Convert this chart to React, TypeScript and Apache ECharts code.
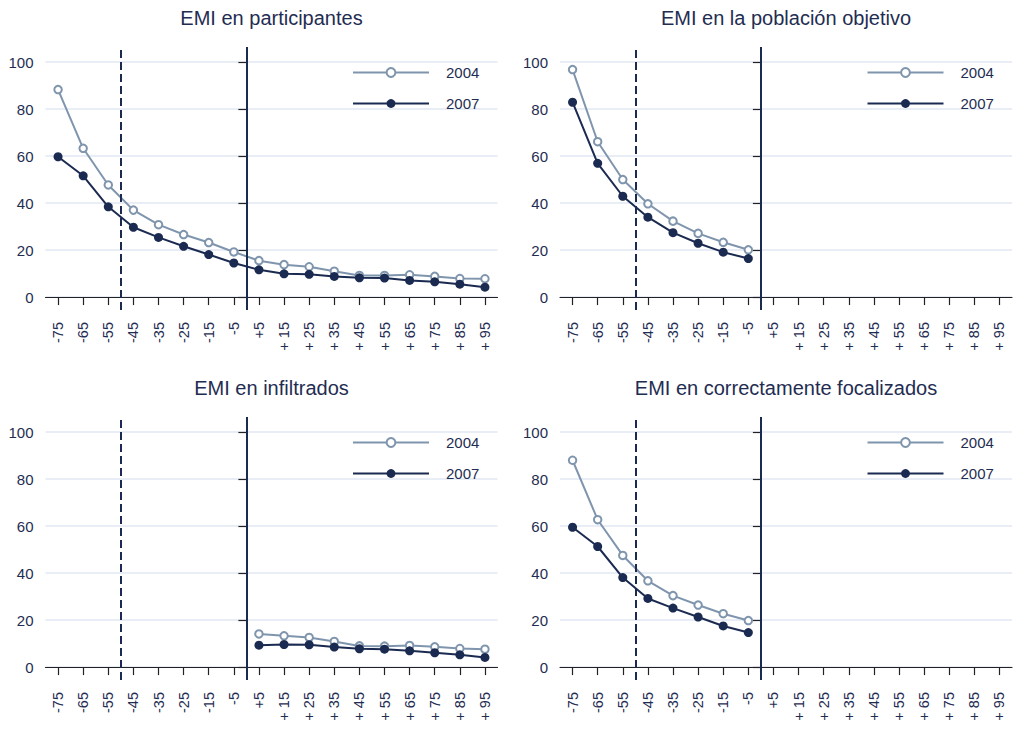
import React, { useEffect, useRef } from "react";
import * as echarts from "echarts";

const categories = ["-75", "-65", "-55", "-45", "-35", "-25", "-15", "-5", "+5", "+ 15", "+ 25", "+ 35", "+ 45", "+ 55", "+ 65", "+ 75", "+ 85", "+ 95"];
const yTicks = [0, 20, 40, 60, 80, 100];
const titles = ["EMI en participantes", "EMI en la población objetivo", "EMI en infiltrados", "EMI en correctamente focalizados"];

const participantes2004 = [88.3, 63.3, 47.7, 37.0, 30.8, 26.6, 23.2, 19.2, 15.5, 13.8, 12.9, 11.0, 9.2, 9.2, 9.5, 8.8, 7.9, 7.8];
const participantes2007 = [59.7, 51.6, 38.4, 29.7, 25.4, 21.6, 18.1, 14.5, 11.6, 9.9, 9.7, 8.8, 8.2, 8.1, 7.1, 6.5, 5.5, 4.2];
const objetivo2004 = [96.8, 66.1, 50.0, 39.7, 32.3, 27.1, 23.3, 20.1, null, null, null, null, null, null, null, null, null, null];
const objetivo2007 = [82.9, 56.9, 42.9, 34.0, 27.4, 22.9, 19.1, 16.4, null, null, null, null, null, null, null, null, null, null];
const infiltrados2004 = [null, null, null, null, null, null, null, null, 14.1, 13.3, 12.6, 10.9, 9.0, 8.9, 9.2, 8.6, 7.9, 7.6];
const infiltrados2007 = [null, null, null, null, null, null, null, null, 9.3, 9.6, 9.5, 8.5, 7.8, 7.6, 6.9, 6.1, 5.2, 4.1];
const focalizados2004 = [88.0, 62.7, 47.5, 36.7, 30.4, 26.4, 22.7, 19.8, null, null, null, null, null, null, null, null, null, null];
const focalizados2007 = [59.5, 51.3, 38.1, 29.2, 25.1, 21.3, 17.5, 14.7, null, null, null, null, null, null, null, null, null, null];

const panelData = [
  [participantes2004, participantes2007],
  [objetivo2004, objetivo2007],
  [infiltrados2004, infiltrados2007],
  [focalizados2004, focalizados2007],
];
const cutoffs = [-50, 0];

const FONT = "'Liberation Sans', Arial, sans-serif";
const C2004 = "#7f95ad";
const C2007 = "#1b2a50";
const TEXT = "#1f2d52";
const GRIDC = "#e2e7f3";

const lefts = [45.5, 560];
const tops = [47, 417];
const GW = 452;
const GH = 263;

export default function App() {
  const ref = useRef<HTMLDivElement>(null);
  useEffect(() => {
    if (!ref.current) return;
    const chart = echarts.init(ref.current, null, { renderer: "svg" });
    const grids: any[] = [];
    const xAxes: any[] = [];
    const yAxes: any[] = [];
    const series: any[] = [];
    const titleArr: any[] = [];
    const legends: any[] = [];
    for (let p = 0; p < 4; p++) {
      const left = lefts[p % 2];
      const top = tops[Math.floor(p / 2)];
      grids.push({ left, top, width: GW, height: GH, containLabel: false });
      titleArr.push({
        text: titles[p],
        left: left + GW / 2,
        top: top - 39,
        textAlign: "center",
        padding: 0,
        textStyle: { fontFamily: FONT, fontSize: 20, fontWeight: "normal", color: TEXT },
      });
      legends.push({
        data: ["2004", "2007"],
        orient: "vertical",
        left: left + 306.5,
        top: top + 18,
        padding: 0,
        itemWidth: 76,
        itemHeight: 11,
        itemGap: 16,
        selectedMode: false,
        textStyle: { fontFamily: FONT, fontSize: 15, color: TEXT, padding: [0, 0, 0, 12] },
      });
      xAxes.push({
        type: "category",
        gridIndex: p,
        data: categories,
        boundaryGap: true,
        axisLine: { show: true, lineStyle: { color: "#222", width: 1.2 } },
        axisTick: { show: true, alignWithLabel: true, length: 8, lineStyle: { color: "#222", width: 1.2 } },
        axisLabel: { interval: 0, rotate: 90, margin: 12, fontFamily: FONT, fontSize: 14.5, color: TEXT },
        splitLine: { show: false },
      });
      yAxes.push({
        type: "value",
        gridIndex: p,
        min: -5.5,
        max: 106.4,
        axisLine: { show: false },
        axisTick: { show: true, customValues: yTicks, length: 8, lineStyle: { color: "#222", width: 1.2 } },
        axisLabel: { customValues: yTicks, margin: 12, fontFamily: FONT, fontSize: 15, color: TEXT },
        splitLine: { show: true, lineStyle: { color: GRIDC, width: 1.5 } },
      });
    }
    for (let p = 0; p < 4; p++) {
      xAxes.push({ type: "value", gridIndex: p, min: -80, max: 100, show: false });
    }
    for (let p = 0; p < 4; p++) {
      series.push({
        name: "2004",
        type: "line",
        xAxisIndex: p,
        yAxisIndex: p,
        data: panelData[p][0],
        symbol: "emptyCircle",
        symbolSize: 7.5,
        lineStyle: { color: C2004, width: 2 },
        itemStyle: { color: C2004, borderColor: C2004, borderWidth: 1.6 },
        z: 3,
      });
      series.push({
        name: "2007",
        type: "line",
        xAxisIndex: p,
        yAxisIndex: p,
        data: panelData[p][1],
        symbol: "circle",
        symbolSize: 9,
        lineStyle: { color: C2007, width: 2 },
        itemStyle: { color: C2007 },
        z: 4,
      });
      series.push({
        name: "cutoffs" + p,
        type: "line",
        xAxisIndex: 4 + p,
        yAxisIndex: p,
        data: [],
        markLine: {
          silent: true,
          symbol: "none",
          label: { show: false },
          data: [
            { xAxis: cutoffs[0], lineStyle: { color: C2007, width: 2, type: [8, 4] } },
            { xAxis: cutoffs[1], lineStyle: { color: C2007, width: 2, type: "solid" } },
          ],
        },
        z: 2,
      });
    }
    chart.setOption({
      animation: false,
      backgroundColor: "#ffffff",
      textStyle: { fontFamily: FONT },
      title: titleArr,
      legend: legends,
      grid: grids,
      xAxis: xAxes,
      yAxis: yAxes,
      series,
    });
    return () => chart.dispose();
  }, []);
  return <div ref={ref} style={{ position: "absolute", left: 0, top: 0, width: 1018, height: 742, background: "#fff" }} />;
}
